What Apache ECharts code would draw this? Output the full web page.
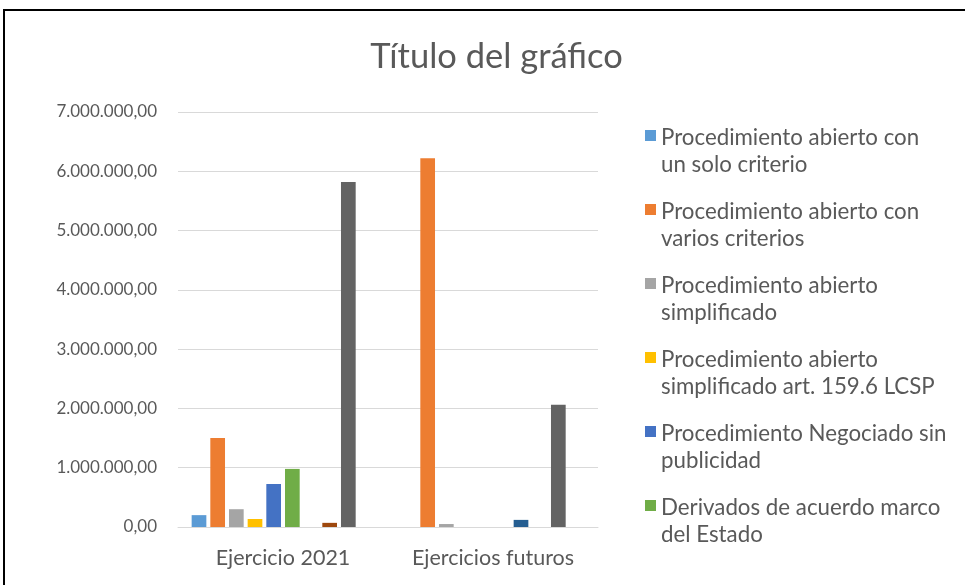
<!DOCTYPE html>
<html>
<head>
<meta charset="utf-8">
<script src="https://cdn.jsdelivr.net/npm/echarts@6/dist/echarts.min.js"></script>
<style>
  html, body { margin: 0; padding: 0; background: #fff; }
  #chart { width: 965px; height: 585px; }
</style>
</head>
<body>
<div id="chart"></div>
<script>
const categories = ['Ejercicio 2021', 'Ejercicios futuros'];

const seriesNames = [
  'Procedimiento abierto con un solo criterio',
  'Procedimiento abierto con varios criterios',
  'Procedimiento abierto simplificado',
  'Procedimiento abierto simplificado art. 159.6 LCSP',
  'Procedimiento Negociado sin publicidad',
  'Derivados de acuerdo marco del Estado',
  'Serie 7',
  'Serie 8',
  'Serie 9',
  'Serie 10'
];

// legend text as it wraps in the picture
const legendLabels = [
  'Procedimiento abierto con\nun solo criterio',
  'Procedimiento abierto con\nvarios criterios',
  'Procedimiento abierto\nsimplificado',
  'Procedimiento abierto\nsimplificado art. 159.6 LCSP',
  'Procedimiento Negociado sin\npublicidad',
  'Derivados de acuerdo marco\ndel Estado'
];

const unSoloCriterio = [200000, 0];
const variosCriterios = [1500000, 6220000];
const simplificado = [300000, 50000];
const simplificadoArt = [135000, 0];
const negociado = [725000, 0];
const acuerdoMarco = [980000, 0];
const serie7 = [0, 120000];
const serie8 = [70000, 0];
const serie9 = [5820000, 2060000];
const serie10 = [0, 0];

const seriesValues = [unSoloCriterio, variosCriterios, simplificado, simplificadoArt,
  negociado, acuerdoMarco, serie7, serie8, serie9, serie10];

const colors = ['#5B9BD5', '#ED7D31', '#A5A5A5', '#FFC000', '#4472C4',
  '#70AD47', '#255E91', '#9E480E', '#636363', '#997300'];

const yTicks = [0, 1000000, 2000000, 3000000, 4000000, 5000000, 6000000, 7000000];

const fmt = (v) => {
  const int = Math.round(v).toString().replace(/\B(?=(\d{3})+(?!\d))/g, '.');
  return int + ',00';
};

const font = 'Lato, "Open Sans", sans-serif';
const chart = echarts.init(document.getElementById('chart'));

// square on the first text line: tiny specks at top and bottom stretch the box
const legendIcon = 'path://M0,0h0.01v0.01h-0.01z M0,5.5h10v10h-10z M0,48.99h0.01v0.01h-0.01z';

chart.setOption({
  animation: false,
  color: colors,
  textStyle: { fontFamily: font },
  title: {
    text: 'Título del gráfico',
    left: 491.5,
    top: 34,
    textAlign: 'center',
    textStyle: { fontFamily: font, fontSize: 34.5, fontWeight: 'normal', color: '#595959' }
  },
  graphic: [{
    type: 'rect',
    shape: { x: 4, y: 10, width: 1100, height: 1000 },
    style: { fill: 'none', stroke: '#000', lineWidth: 2 },
    silent: true
  }],
  legend: {
    orient: 'vertical',
    left: 640,
    top: 119,
    itemWidth: 11,
    itemHeight: 54,
    itemGap: 20,
    icon: legendIcon,
    data: seriesNames.slice(0, 6),
    formatter: (name) => legendLabels[seriesNames.indexOf(name)],
    textStyle: { fontFamily: font, fontSize: 22.3, color: '#595959', lineHeight: 27, padding: [0, 0, 0, 0] }
  },
  grid: {
    left: 178,
    right: 367,
    top: 112,
    bottom: 58
  },
  xAxis: {
    type: 'category',
    data: categories,
    axisTick: { show: false },
    axisLine: { lineStyle: { color: '#D9D9D9', width: 1 } },
    axisLabel: { interval: 0, fontFamily: font, fontSize: 21.5, color: '#595959', margin: 20 }
  },
  yAxis: {
    type: 'value',
    min: yTicks[0],
    max: yTicks[yTicks.length - 1],
    interval: 1000000,
    axisLine: { show: false },
    axisTick: { show: false },
    splitLine: { lineStyle: { color: '#D9D9D9', width: 1 } },
    axisLabel: { fontFamily: font, fontSize: 17, color: '#595959', margin: 21, formatter: fmt }
  },
  series: seriesNames.map((name, i) => ({
    type: 'bar',
    name: name,
    data: seriesValues[i],
    barGap: '27%',
    barCategoryGap: '13%',
    itemStyle: { color: colors[i] }
  }))
});
</script>
</body>
</html>
